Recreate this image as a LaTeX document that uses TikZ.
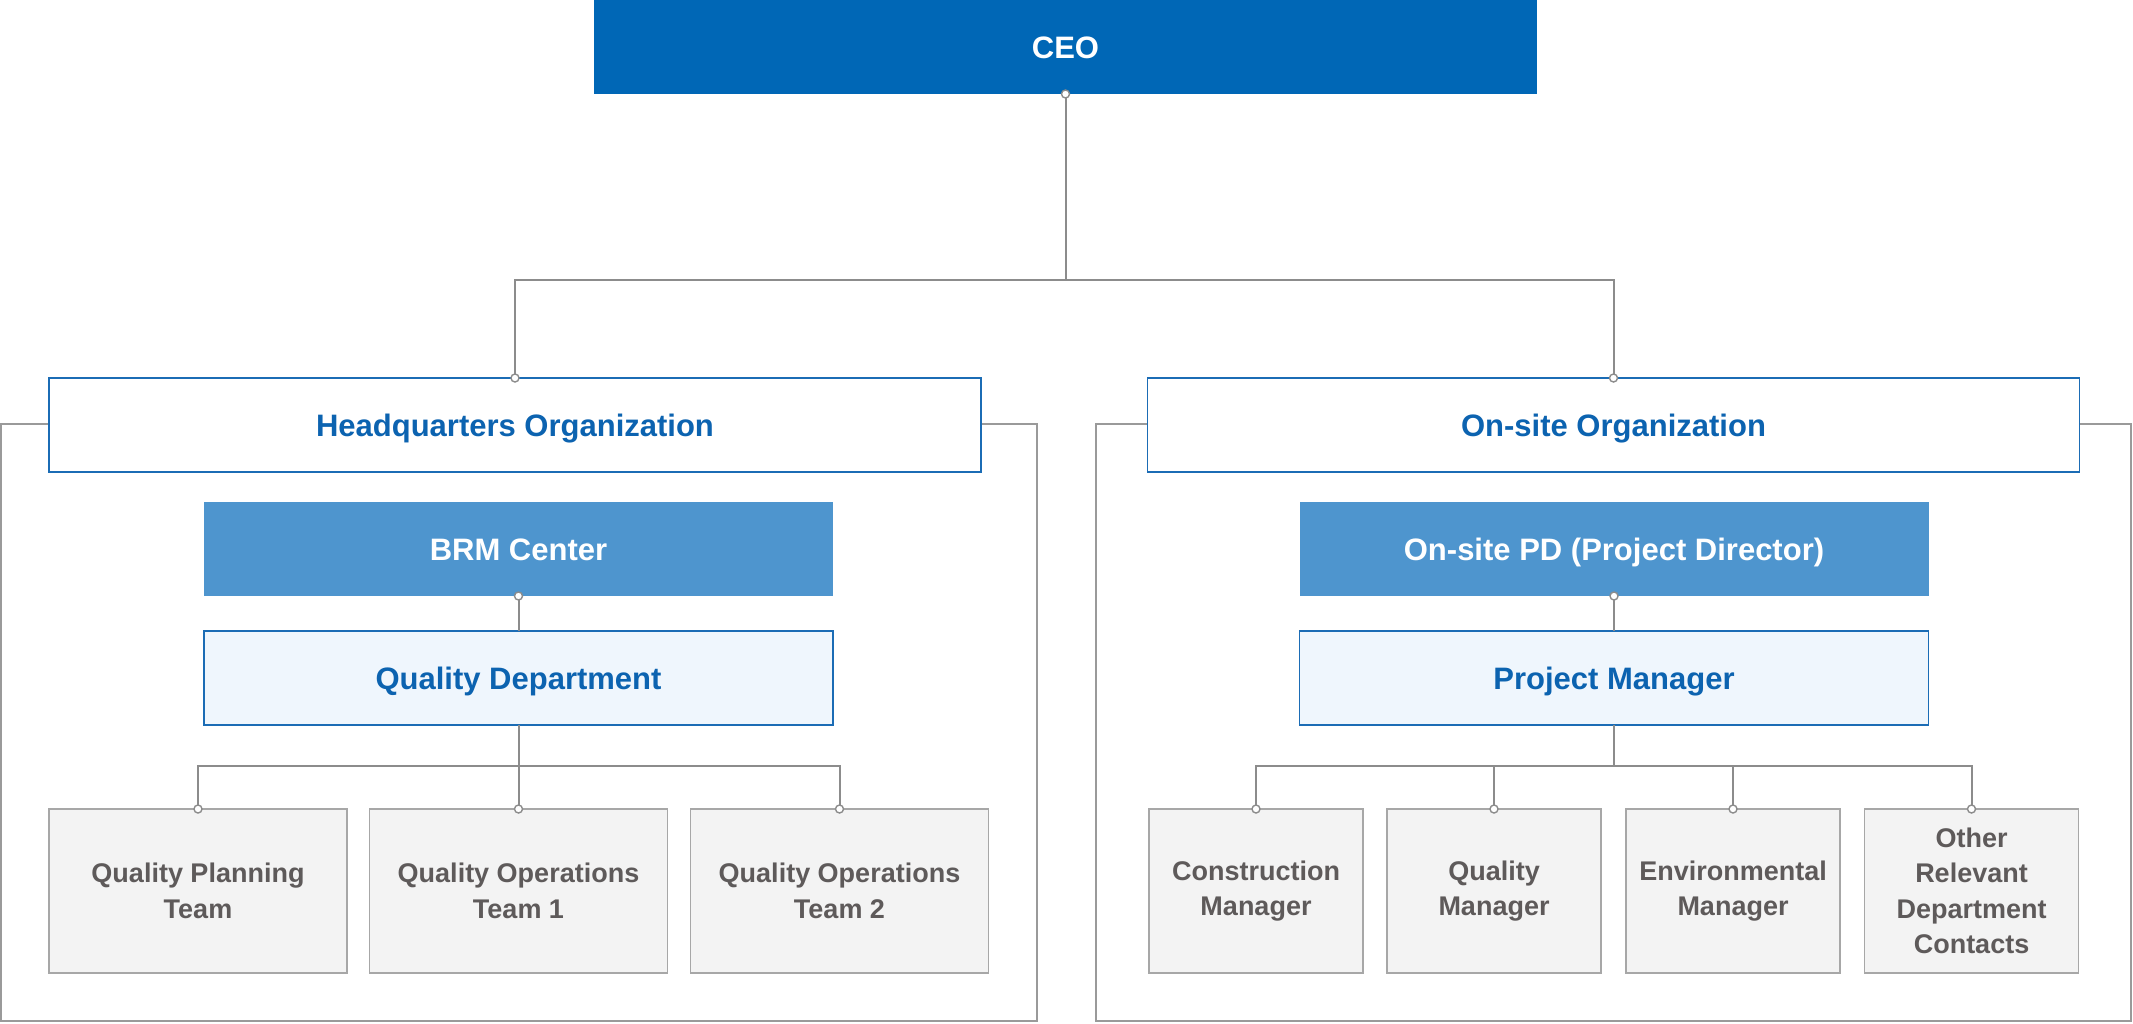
\documentclass[tikz,border=0pt]{standalone}
\usepackage{fontspec}
\setmainfont{Liberation Sans}
\definecolor{ceoblue}{HTML}{0067B6}
\definecolor{brmblue}{HTML}{4E95CE}
\definecolor{textblue}{HTML}{0C63B0}
\definecolor{qdfill}{HTML}{EFF6FD}
\definecolor{qdborder}{HTML}{1B6CB5}
\definecolor{teamfill}{HTML}{F3F3F3}
\definecolor{teamborder}{HTML}{A7A7A7}
\definecolor{teamtext}{HTML}{5E5A5A}
\definecolor{linegray}{HTML}{8C8C8C}
\definecolor{framegray}{HTML}{9A9A9A}
\begin{document}
\begin{tikzpicture}[x=1pt,y=-1pt,
  base/.style={rectangle,inner sep=0pt,outer sep=0pt,align=center},
  bigtxt/.style={font=\fontsize{31}{37}\selectfont\bfseries,text height=22pt,text depth=0pt},
  ceobox/.style={base,bigtxt,fill=ceoblue,text=white,minimum width=943pt,minimum height=94pt},
  orgbox/.style={base,bigtxt,fill=white,draw=qdborder,line width=1.8pt,text=textblue,minimum width=932pt,minimum height=94pt},
  brmbox/.style={base,bigtxt,fill=brmblue,text=white,minimum width=629pt,minimum height=94pt},
  deptbox/.style={base,bigtxt,fill=qdfill,draw=qdborder,line width=1.8pt,text=textblue,minimum width=629pt,minimum height=94pt},
  teambox/.style={base,font=\fontsize{27}{35.4}\selectfont\bfseries,fill=teamfill,draw=teamborder,line width=1.8pt,text=teamtext,minimum width=298pt,minimum height=164pt},
  mgrbox/.style={teambox,minimum width=214pt},
  conn/.style={draw=linegray,line width=2pt},
  frame/.style={draw=framegray,line width=2pt},
  dot/.style={circle,fill=white,draw=linegray,line width=1.4pt,inner sep=0pt,minimum size=8pt}
]
\useasboundingbox (0,0) rectangle (2133,1023);
% outer frames
\draw[frame] (1,424) rectangle (1037,1021);
\draw[frame] (1096,424) rectangle (2131,1021);
% nodes
\node[ceobox] (ceo) at (1065.5,47) {CEO};
\node[orgbox] (hq) at (515,425) {Headquarters Organization};
\node[orgbox] (os) at (1613.5,425) {On-site Organization};
\node[brmbox] (brm) at (518.5,549) {BRM Center};
\node[deptbox] (qd) at (518.5,678) {Quality Department};
\node[brmbox] (pd) at (1614,549) {On-site PD (Project Director)};
\node[deptbox] (pm) at (1614,678) {Project Manager};
\node[teambox] (t1) at (198,891) {Quality Planning\\Team};
\node[teambox] (t2) at (518.5,891) {Quality Operations\\Team 1};
\node[teambox] (t3) at (839.5,891) {Quality Operations\\Team 2};
\node[mgrbox] (m1) at (1256,891) {Construction\\Manager};
\node[mgrbox] (m2) at (1494,891) {Quality\\Manager};
\node[mgrbox] (m3) at (1733,891) {Environmental\\Manager};
\node[mgrbox] (m4) at (1971.5,891) {Other\\Relevant\\Department\\Contacts};
% junctions
\coordinate (jtop) at (1065.5,280);
\coordinate (jl) at (518.5,766);
\coordinate (jr) at (1614,766);
% connectors
\draw[conn] (ceo.south) -- (jtop);
\draw[conn] (hq.north) |- (jtop) -| (os.north);
\draw[conn] (brm.south) -- (qd.north);
\draw[conn] (pd.south) -- (pm.north);
\draw[conn] (qd.south) -- (jl);
\draw[conn] (t1.north) |- (jl) -| (t3.north);
\draw[conn] (jl) -- (t2.north);
\draw[conn] (pm.south) -- (jr);
\draw[conn] (m1.north) |- (jr) -| (m4.north);
\draw[conn] (m2.north) -- (m2.north |- jr);
\draw[conn] (m3.north) -- (m3.north |- jr);
% dots
\foreach \n in {ceo.south,hq.north,os.north,brm.south,pd.south,t1.north,t2.north,t3.north,m1.north,m2.north,m3.north,m4.north}
  \node[dot] at (\n) {};
\end{tikzpicture}
\end{document}
